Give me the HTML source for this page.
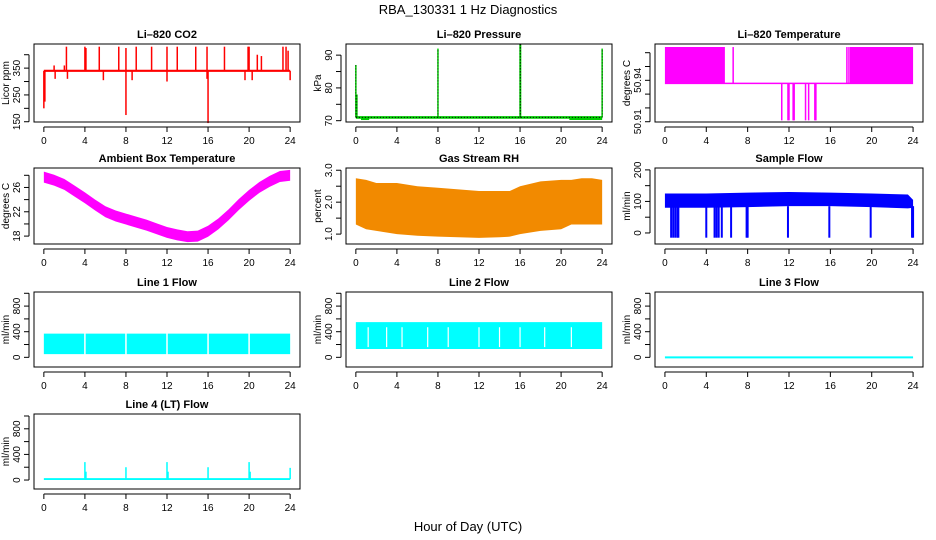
<!DOCTYPE html>
<html><head><meta charset="utf-8"><style>
html,body{margin:0;padding:0;background:#fff}
svg{display:block;font-family:"Liberation Sans",sans-serif}
</style></head><body>
<svg id="chart" width="936" height="540" viewBox="0 0 936 540">
<rect width="936" height="540" fill="#fff"/>
<text x="468" y="14" text-anchor="middle" font-size="13">RBA_130331  1 Hz Diagnostics</text>
<text x="468" y="531" text-anchor="middle" font-size="13">Hour of Day (UTC)</text>
</svg>
<script>
const xTicks = [0,4,8,12,16,20,24];
// CO2
const co2Base = 340;
const co2UpHours = [2.2,4.0,4.1,5.4,7.3,8.0,9.0,10.5,12.0,13.0,14.8,15.9,17.6,19.9,20.0,20.8,21.2,23.3,23.6,23.8,1.0,2.0];
const co2UpValues = [430,430,425,430,430,425,430,430,430,430,430,430,430,430,430,400,395,430,430,415,360,360];
const co2DownHours = [0.0,0.1,1.1,2.3,5.8,8.0,8.6,12.0,15.9,16.0,19.6,20.3,24.0];
const co2DownValues = [200,225,310,310,305,175,305,300,310,145,305,305,305];
// Pressure
const presBase = 71;
const presSpikeHours = [0.0,0.1,8.0,16.0,16.05,24.0];
const presSpikeValues = [87,78,92,93.4,93.4,92];
// Li-820 temperature
const tempBlockStarts = [0,17.9];
const tempBlockEnds = [5.8,24];
const tempBandLo = 50.9378;
const tempBandHi = 50.9641;
const tempUpHours = [6.6,17.6,17.8,18.0];
const tempDownHours = [11.3,11.9,12.0,12.4,12.5,13.6,13.9,14.5,14.6];
const tempDownValue = 50.911;
// Ambient box temperature
const ambHours = [0,1,2,3,4,5,6,7,8,9,10,11,12,13,14,15,16,17,18,19,20,21,22,23,24];
const ambValues = [27.7,27.2,26.5,25.4,24.3,23.1,22.0,21.3,20.8,20.3,19.8,19.2,18.6,18.2,17.9,18.0,18.8,20.0,21.5,23.2,24.7,26.0,27.0,27.8,28.0];
const ambHalfWidth = 0.9;
// Gas stream RH
const rhHours = [0,1,2,3,4,6,8,10,12,14,15,16,18,20,21,22,23,24];
const rhHi = [2.75,2.7,2.6,2.6,2.6,2.5,2.45,2.4,2.35,2.35,2.35,2.5,2.65,2.7,2.7,2.75,2.75,2.7];
const rhLo = [1.3,1.15,1.1,1.05,1.0,0.95,0.92,0.9,0.88,0.9,0.92,1.0,1.1,1.15,1.3,1.3,1.3,1.3];
// Sample flow
const sfHours = [0,4,8,12,16,20,23.5,24];
const sfHi = [125,125,128,130,128,125,122,105];
const sfLo = [80,80,82,85,85,82,78,80];
const sfDipHours = [0.6,0.8,1.0,1.2,1.3,4.0,4.8,5.0,5.2,5.5,6.4,7.9,8.0,11.9,15.9,19.9,23.9,24.0];
const sfDipValue = -15;
// Line flows
const l1Hi = 370, l1Lo = 50;
const l1GapHours = [4,8,12,16,20];
const l2Hi = 550, l2Lo = 130;
const l2GapHours = [1.2,3.0,4.5,7.0,9.0,12.0,14.0,16.0,18.4,21.0];
const l3Value = 0;
const l4Base = 15;
const l4SpikeHours = [4.0,4.1,8.0,12.0,12.1,16.0,20.0,20.1,24.0];
const l4SpikeValues = [280,130,200,280,130,200,280,130,190];

const NS = "http://www.w3.org/2000/svg";
const svg = document.getElementById('chart');
function el(tag, attrs, parent){const e=document.createElementNS(NS,tag);for(const k in attrs)e.setAttribute(k,attrs[k]);(parent||svg).appendChild(e);return e;}

function makePanel(o){
  const g = el('g',{});
  
  
  const p = {x0:o.x,y0:o.y,w:o.w,h:o.h,ymin:o.ymin,ymax:o.ymax,g:g};
  p.X = h => p.x0 + (h + 0.96) * (p.w / 25.92);
  p.Y = v => p.y0 + p.h - (v - p.ymin) / (p.ymax - p.ymin) * p.h;
  const t = el('text',{x:p.x0+p.w/2,y:p.y0-6,'text-anchor':'middle','font-size':'11','font-weight':'bold'},g);
  t.textContent = o.title;
  
  
  p.plot = el('g',{},g);
  
  
  p.finish = function(){
    el('rect',{x:p.x0,y:p.y0,width:p.w,height:p.h,fill:'none',stroke:'#000','stroke-width':1},g);
    const bx = p.y0+p.h;
    el('line',{x1:p.X(0),x2:p.X(24),y1:bx+5,y2:bx+5,stroke:'#000'},g);
    xTicks.forEach(v=>{
      el('line',{x1:p.X(v),x2:p.X(v),y1:bx+5,y2:bx+10,stroke:'#000'},g);
      const tl = el('text',{x:p.X(v),y:bx+22,'text-anchor':'middle','font-size':'10'},g);
      tl.textContent = v;
      
      
    });
    const ax = p.x0-5;
    el('line',{x1:ax,x2:ax,y1:p.Y(o.yticks[0]),y2:p.Y(o.yticks[o.yticks.length-1]),stroke:'#000'},g);
    o.yticks.forEach(v=>{
      el('line',{x1:ax-5,x2:ax,y1:p.Y(v),y2:p.Y(v),stroke:'#000'},g);
    });
    o.ylabels.forEach(v=>{
      const tx = ax-9, ty = p.Y(v);
      const tl = el('text',{x:tx,y:ty,'text-anchor':'middle','font-size':'10',transform:`rotate(-90 ${tx} ${ty})`},g);
      tl.textContent = o.fmt ? o.fmt(v) : v;
      
      
    });
    const yx = p.x0-25, yy = p.y0+p.h/2;
    const yt = el('text',{x:yx,y:yy,'text-anchor':'middle','font-size':'10',transform:`rotate(-90 ${yx} ${yy})`},g);
    yt.textContent = o.ytitle;
    
    
  };
  return p;
}
function vline(p,h,v1,v2,color,w){el('line',{x1:p.X(h),x2:p.X(h),y1:p.Y(v1),y2:p.Y(v2),stroke:color,'stroke-width':w||1.5},p.plot);}
function band(p,hours,lo,hi,color){
  let pts=[];hours.forEach((h,i)=>pts.push(p.X(h)+','+p.Y(hi[i])));
  for(let i=hours.length-1;i>=0;i--)pts.push(p.X(hours[i])+','+p.Y(lo[i]));
  el('polygon',{points:pts.join(' '),fill:color},p.plot);
}
const C1=34,C2=346,C3=655,W=266, R1=44,R2=168,R3=292,R4=414;

// CO2
let p = makePanel({name:'co2-panel',title:'Li\u2013820 CO2',x:C1,y:R1,w:W,h:78,ymin:149,ymax:440,yticks:[150,200,250,300,350,400],ylabels:[150,250,350],ytitle:'Licor ppm'});
co2UpHours.forEach((h,i)=>vline(p,h,co2Base,co2UpValues[i],'#f00',1.5));
co2DownHours.forEach((h,i)=>vline(p,h,co2Base,co2DownValues[i],'#f00',1.5));
band(p,[0,24],[co2Base-4,co2Base-4],[co2Base+4,co2Base+4],'#f00');
p.finish();

// Pressure
p = makePanel({name:'pressure-panel',title:'Li\u2013820 Pressure',x:C2,y:R1,w:W,h:78,ymin:69.6,ymax:93.4,yticks:[70,75,80,85,90],ylabels:[70,80,90],ytitle:'kPa'});
band(p,[0,24],[presBase-0.4,presBase-0.4],[presBase+0.4,presBase+0.4],'#0c0');
band(p,[0.5,1.3],[70.2,70.2],[presBase,presBase],'#0c0');
band(p,[20.8,24],[70.2,70.2],[presBase,presBase],'#0c0');
presSpikeHours.forEach((h,i)=>vline(p,h,presBase,presSpikeValues[i],'#0c0',1.5));
el('line',{x1:p.X(0),x2:p.X(24),y1:p.Y(presBase),y2:p.Y(presBase),stroke:'#000','stroke-width':1,'stroke-dasharray':'1 2'},p.plot);
presSpikeHours.forEach((h,i)=>el('line',{x1:p.X(h),x2:p.X(h),y1:p.Y(presBase),y2:p.Y(presSpikeValues[i]),stroke:'#000','stroke-width':0.8,'stroke-dasharray':'1 2'},p.plot));
p.finish();

// Li-820 temperature
p = makePanel({name:'li820-temperature-panel',title:'Li\u2013820 Temperature',x:C3,y:R1,w:268,h:78,ymin:50.9098,ymax:50.9663,yticks:[50.91,50.92,50.93,50.94,50.95,50.96],ylabels:[50.91,50.94],fmt:v=>v.toFixed(2),ytitle:'degrees C'});
tempBlockStarts.forEach((s,i)=>band(p,[s,tempBlockEnds[i]],[tempBandLo,tempBandLo],[tempBandHi,tempBandHi],'#f0f'));
el('line',{x1:p.X(0),x2:p.X(24),y1:p.Y(tempBandLo),y2:p.Y(tempBandLo),stroke:'#f0f','stroke-width':1.5},p.plot);
tempUpHours.forEach(h=>vline(p,h,tempBandLo,tempBandHi,'#f0f',1.5));
tempDownHours.forEach(h=>vline(p,h,tempBandLo,tempDownValue,'#f0f',1.5));
p.finish();

// Ambient
p = makePanel({name:'ambient-temperature-panel',title:'Ambient Box Temperature',x:C1,y:R2,w:W,h:76,ymin:16.7,ymax:29.2,yticks:[18,20,22,24,26,28],ylabels:[18,22,26],ytitle:'degrees C'});
band(p,ambHours,ambValues.map(v=>v-ambHalfWidth),ambValues.map(v=>v+ambHalfWidth),'#f0f');
p.finish();

// RH
p = makePanel({name:'gas-stream-rh-panel',title:'Gas Stream RH',x:C2,y:R2,w:W,h:76,ymin:0.69,ymax:3.07,yticks:[1.0,1.5,2.0,2.5,3.0],ylabels:[1.0,2.0,3.0],fmt:v=>v.toFixed(1),ytitle:'percent'});
band(p,rhHours,rhLo,rhHi,'#f28a00');
p.finish();

// Sample flow
p = makePanel({name:'sample-flow-panel',title:'Sample Flow',x:C3,y:R2,w:268,h:76,ymin:-35,ymax:206,yticks:[0,50,100,150,200],ylabels:[0,100,200],ytitle:'ml/min'});
band(p,sfHours,sfLo,sfHi,'#00f');
sfDipHours.forEach(h=>vline(p,h,85,sfDipValue,'#00f',2));
p.finish();

// Line 1
p = makePanel({name:'line1-flow-panel',title:'Line 1 Flow',x:C1,y:R3,w:W,h:75,ymin:-151,ymax:1020,yticks:[0,200,400,600,800,1000],ylabels:[0,400,800],ytitle:'ml/min'});
band(p,[0,24],[l1Lo,l1Lo],[l1Hi,l1Hi],'#0ff');
l1GapHours.forEach(h=>vline(p,h,l1Lo-20,l1Hi+20,'#fff',1.5));
p.finish();

// Line 2
p = makePanel({name:'line2-flow-panel',title:'Line 2 Flow',x:C2,y:R3,w:W,h:75,ymin:-151,ymax:1020,yticks:[0,200,400,600,800,1000],ylabels:[0,400,800],ytitle:'ml/min'});
band(p,[0,24],[l2Lo,l2Lo],[l2Hi,l2Hi],'#0ff');
l2GapHours.forEach(h=>vline(p,h,l2Lo+30,l2Hi-80,'#fff',1.2));
p.finish();

// Line 3
p = makePanel({name:'line3-flow-panel',title:'Line 3 Flow',x:C3,y:R3,w:268,h:75,ymin:-151,ymax:1020,yticks:[0,200,400,600,800,1000],ylabels:[0,400,800],ytitle:'ml/min'});
el('line',{x1:p.X(0),x2:p.X(24),y1:p.Y(l3Value),y2:p.Y(l3Value),stroke:'#0ff','stroke-width':2},p.plot);
p.finish();

// Line 4
p = makePanel({name:'line4-flow-panel',title:'Line 4 (LT) Flow',x:C1,y:R4,w:W,h:75,ymin:-140,ymax:1031,yticks:[0,200,400,600,800,1000],ylabels:[0,400,800],ytitle:'ml/min'});
band(p,[0,24],[l4Base-15,l4Base-15],[l4Base+15,l4Base+15],'#0ff');
l4SpikeHours.forEach((h,i)=>vline(p,h,l4Base,l4SpikeValues[i],'#0ff',1.5));
p.finish();
</script>
</body></html>
